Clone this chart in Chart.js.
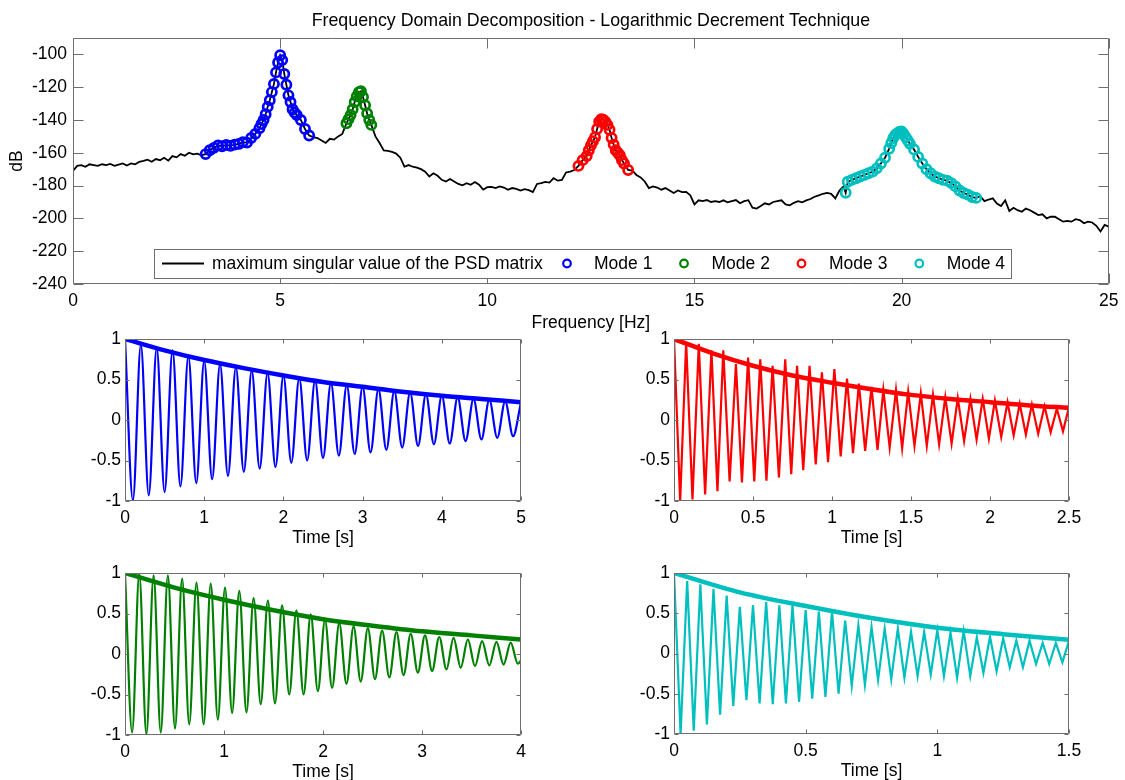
<!DOCTYPE html>
<html><head><meta charset="utf-8">
<script src="https://cdn.jsdelivr.net/npm/chart.js@4.4.1/dist/chart.umd.min.js"></script>
<style>
html,body{margin:0;padding:0;background:#fff;}
#wrap{position:relative;width:1125px;height:780px;overflow:hidden;background:#fff;}
#wrap canvas{position:absolute;left:0;top:0;}
</style></head><body><div id="wrap"></div>
<script>
// ---------------- DATA ----------------
const freqHz = [
0,0.1,0.2,0.3,0.4,0.5,0.6,0.7,0.8,0.9,
1,1.1,1.2,1.3,1.4,1.5,1.6,1.7,1.8,1.9,
2,2.1,2.2,2.3,2.4,2.5,2.6,2.7,2.8,2.9,
3,3.1,3.2,3.3,3.4,3.5,3.6,3.7,3.8,3.9,
4,4.1,4.2,4.3,4.4,4.5,4.55,4.6,4.65,4.7,
4.75,4.8,4.85,4.9,4.95,5,5.05,5.1,5.15,5.2,
5.25,5.3,5.35,5.4,5.5,5.6,5.7,5.8,5.9,6,
6.1,6.2,6.3,6.4,6.5,6.6,6.65,6.7,6.75,6.8,
6.85,6.9,6.95,7,7.05,7.1,7.15,7.2,7.3,7.4,
7.5,7.6,7.7,7.8,7.9,8,8.1,8.2,8.3,8.4,
8.5,8.6,8.7,8.8,8.9,9,9.1,9.2,9.3,9.4,
9.5,9.6,9.7,9.8,9.9,10,10.1,10.2,10.3,10.4,
10.5,10.6,10.7,10.8,10.9,11,11.1,11.2,11.3,11.4,
11.5,11.6,11.7,11.8,11.9,12,12.1,12.2,12.3,12.4,
12.45,12.5,12.55,12.6,12.65,12.7,12.75,12.8,12.85,12.9,
12.95,13,13.05,13.1,13.15,13.2,13.25,13.3,13.4,13.5,
13.6,13.7,13.8,13.9,14,14.1,14.2,14.3,14.4,14.5,
14.6,14.7,14.8,14.9,15,15.1,15.2,15.3,15.4,15.5,
15.6,15.7,15.8,15.9,16,16.1,16.2,16.3,16.4,16.5,
16.6,16.7,16.8,16.9,17,17.1,17.2,17.3,17.4,17.5,
17.6,17.7,17.8,17.9,18,18.1,18.2,18.3,18.4,18.5,
18.6,18.65,18.7,18.8,18.9,19,19.1,19.2,19.3,19.4,
19.5,19.6,19.7,19.75,19.8,19.85,19.9,19.95,20,20.05,
20.1,20.15,20.2,20.3,20.4,20.5,20.6,20.7,20.8,20.9,
21,21.1,21.2,21.3,21.4,21.5,21.6,21.7,21.8,21.9,
22,22.1,22.2,22.3,22.4,22.5,22.6,22.7,22.8,22.9,
23,23.1,23.2,23.3,23.4,23.5,23.6,23.7,23.8,23.9,
24,24.1,24.2,24.3,24.4,24.5,24.6,24.7,24.8,24.9,
25];
const psdDb = [
-171,-168,-167.5,-168.5,-167,-167.5,-168,-167,-167.5,-166.8,
-168,-167.2,-166.5,-167.8,-166.5,-167,-165.5,-165,-164.2,-165.5,
-163.8,-164.5,-163,-164.8,-162,-162.8,-160.8,-161.8,-160,-161,
-160.5,-161.5,-160.8,-158.5,-157,-155.5,-156,-155.2,-155.8,-155,
-154.6,-153.5,-153.8,-151,-148.5,-145,-142.5,-140,-136.5,-132,
-128,-123,-118,-111,-105,-100.5,-103.5,-112,-118.5,-125,
-129,-133.5,-135.5,-137,-140,-145.5,-149.5,-150.5,-151,-152.5,
-154,-151.5,-152,-150,-148.5,-142,-139.5,-137,-133.5,-129,
-125.5,-123,-122.5,-126,-131,-136,-140,-143,-150,-154,
-158.5,-158.8,-159.5,-160.5,-163,-168.5,-167.5,-168.5,-169,-170,
-171.5,-174.5,-172.5,-174,-176.5,-177.5,-176,-177.5,-179,-179.8,
-178.5,-179.5,-177.8,-179.5,-182.5,-181,-180.8,-181.5,-180.5,-181.2,
-182.5,-181.5,-182,-183,-182.2,-182.8,-184,-179,-178.5,-177.8,
-178.2,-175.5,-177,-176.5,-172,-171.5,-170.5,-168,-164.5,-162,
-158.5,-155.5,-153,-150.5,-145.5,-141,-139.5,-139.8,-141,-143,
-146,-151,-155,-158.5,-160,-161.5,-164.5,-166.5,-170.5,-170.8,
-173.5,-175,-177.5,-181.5,-180.5,-181.2,-182.5,-181.5,-183,-184.5,
-183,-184,-183.8,-186,-191.5,-189,-189.5,-188.8,-190,-189.5,
-190,-189,-190.2,-189.5,-188.8,-190.8,-189.5,-188.9,-193.5,-194,
-192.5,-190.8,-191.5,-190,-189.5,-189,-191.5,-192,-190.5,-189.5,
-190.2,-189,-188.2,-186.8,-186,-185,-184.5,-185,-187.8,-183,
-180.5,-184.4,-177.7,-176.5,-175.5,-174.5,-173.5,-172.5,-171.5,-169.5,
-166.5,-163,-157.5,-154,-151,-149,-148,-147.2,-147,-148.5,
-150.5,-152.5,-154.5,-158,-162.5,-166.5,-170,-172.5,-174.5,-175.5,
-176.5,-177,-178.5,-180.5,-183,-184.5,-185.5,-187,-187.5,-186.5,
-189.5,-188.5,-187.8,-191,-192.5,-189,-195.5,-193.5,-195,-196,
-194,-195,-196.5,-198,-197.5,-200,-199,-199,-200.5,-202,
-201.5,-202,-200.5,-201,-203,-202,-202.5,-204.5,-208,-204,
-205];

const modeNames = ['Mode 1', 'Mode 2', 'Mode 3', 'Mode 4'];
const modeLoHz  = [3.2, 6.6, 12.2, 18.65];
const modeHiHz  = [5.7, 7.2, 13.4, 21.8];

const xTicksTop = [0, 5, 10, 15, 20, 25];
const yTicksTop = [-240, -220, -200, -180, -160, -140, -120, -100];
const yTicksSmall = [-1, -0.5, 0, 0.5, 1];

// Mode 1 (blue) decay
const blueT = [0,0.1,0.2,0.3,0.4,0.5,0.6,0.7,0.8,0.9,1,1.1,1.2,1.3,1.4,1.5,1.6,1.7,1.8,1.9,
2,2.1,2.2,2.3,2.4,2.5,2.6,2.7,2.8,2.9,3,3.1,3.2,3.3,3.4,3.5,3.6,3.7,3.8,3.9,
4,4.1,4.2,4.3,4.4,4.5,4.6,4.7,4.8,4.9,5];
const blueY = [1,-0.99,0.93,-0.93,0.89,-0.89,0.86,-0.82,0.79,-0.78,
0.73,-0.73,0.69,-0.69,0.65,-0.64,0.61,-0.6,0.58,-0.58,
0.55,-0.53,0.52,-0.5,0.49,-0.47,0.46,-0.44,0.43,-0.42,
0.41,-0.4,0.38,-0.37,0.36,-0.34,0.34,-0.32,0.32,-0.3,
0.3,-0.29,0.28,-0.26,0.26,-0.24,0.25,-0.22,0.23,-0.2,0.22];
const blueEnvT = [0,0.5,1,1.5,2,2.5,3,3.5,4,4.5,5];
const blueEnvY = [1,0.86,0.74,0.64,0.55,0.47,0.41,0.35,0.3,0.26,0.22];
const blueTicksX = [0,1,2,3,4,5];

// Mode 3 (red) decay
const redT = [0,0.039,0.077,0.117,0.157,0.197,0.237,0.275,0.312,0.352,
0.392,0.43,0.469,0.508,0.546,0.585,0.624,0.664,0.704,0.742,
0.779,0.818,0.858,0.897,0.936,0.975,1.015,1.055,1.095,1.133,
1.17,1.21,1.25,1.288,1.325,1.365,1.405,1.444,1.482,1.522,
1.562,1.6,1.639,1.678,1.717,1.757,1.796,1.836,1.876,1.915,
1.954,1.993,2.031,2.071,2.111,2.15,2.188,2.227,2.265,2.305,
2.345,2.384,2.423,2.462,2.5];
const redY = [1,-1,0.96,-0.98,0.94,-0.92,0.86,-0.88,0.86,-0.76,
0.69,-0.77,0.77,-0.76,0.75,-0.75,0.67,-0.71,0.75,-0.67,
0.67,-0.62,0.67,-0.55,0.59,-0.52,0.63,-0.45,0.51,-0.41,
0.45,-0.38,0.41,-0.37,0.37,-0.34,0.37,-0.35,0.35,-0.32,
0.33,-0.32,0.31,-0.3,0.28,-0.29,0.27,-0.26,0.26,-0.24,
0.26,-0.23,0.24,-0.21,0.22,-0.19,0.2,-0.18,0.19,-0.17,
0.17,-0.15,0.14,-0.14,0.16];
const redEnvT = [0,0.25,0.5,0.75,1,1.25,1.5,1.75,2,2.25,2.5];
const redEnvY = [1,0.82,0.67,0.55,0.46,0.38,0.31,0.26,0.22,0.18,0.15];
const redTicksX = [0,0.5,1,1.5,2,2.5];

// Mode 2 (green) decay
const greenT = [0,0.072,0.144,0.216,0.289,0.361,0.433,0.505,0.577,0.649,
0.722,0.794,0.866,0.938,1.01,1.082,1.154,1.227,1.299,1.371,
1.443,1.515,1.587,1.659,1.731,1.804,1.876,1.948,2.02,2.092,
2.164,2.237,2.309,2.381,2.453,2.525,2.597,2.67,2.742,2.814,
2.886,2.958,3.03,3.102,3.174,3.247,3.319,3.391,3.463,3.535,
3.607,3.68,3.752,3.824,3.896,3.968,4];
const greenY = [1,-0.97,0.99,-0.99,0.97,-0.97,0.97,-0.92,0.93,-0.87,
0.88,-0.87,0.87,-0.81,0.82,-0.73,0.78,-0.72,0.69,-0.62,
0.66,-0.61,0.6,-0.5,0.54,-0.5,0.49,-0.46,0.42,-0.42,
0.38,-0.37,0.34,-0.34,0.32,-0.31,0.29,-0.29,0.27,-0.26,
0.25,-0.23,0.23,-0.21,0.21,-0.19,0.2,-0.17,0.18,-0.15,
0.16,-0.14,0.15,-0.13,0.14,-0.12,-0.08];
const greenEnvT = [0,0.5,1,1.5,2,2.5,3,3.5,4];
const greenEnvY = [1,0.82,0.67,0.54,0.43,0.35,0.28,0.23,0.18];
const greenTicksX = [0,1,2,3,4];

// Mode 4 (cyan) decay
const cyanT = [0,0.025,0.05,0.075,0.1,0.125,0.15,0.175,0.2,0.225,
0.25,0.275,0.3,0.325,0.35,0.375,0.4,0.425,0.45,0.475,
0.5,0.525,0.55,0.575,0.6,0.625,0.65,0.675,0.7,0.725,
0.75,0.775,0.8,0.825,0.85,0.875,0.9,0.925,0.95,0.975,
1,1.025,1.05,1.075,1.1,1.125,1.15,1.175,1.2,1.225,
1.25,1.275,1.3,1.325,1.35,1.375,1.4,1.425,1.45,1.475,1.5];
const cyanY = [1,-1,0.9,-0.96,0.86,-0.88,0.8,-0.76,0.72,-0.65,
0.58,-0.58,0.6,-0.62,0.64,-0.63,0.6,-0.62,0.6,-0.6,
0.54,-0.56,0.52,-0.54,0.52,-0.5,0.41,-0.4,0.35,-0.39,
0.33,-0.33,0.31,-0.32,0.31,-0.3,0.27,-0.28,0.27,-0.26,
0.29,-0.28,0.26,-0.3,0.28,-0.28,0.2,-0.24,0.21,-0.22,
0.19,-0.17,0.16,-0.17,0.16,-0.13,0.13,-0.13,0.13,-0.11,0.16];
const cyanEnvT = [0,0.25,0.5,0.75,1,1.25,1.5];
const cyanEnvY = [1,0.76,0.59,0.44,0.32,0.24,0.17];
const cyanTicksX = [0,0.5,1,1.5];

// ---------------- STYLE / SETUP ----------------
const FONT = '"Liberation Sans", Arial, Helvetica, sans-serif';
const FS = 17.5;
Chart.defaults.font.family = FONT;
Chart.defaults.font.size = FS;
Chart.defaults.color = '#000';
Chart.defaults.animation = false;
const PW = 1125, PH = 780;
const FRAME = '#6e6e6e';
const COLORS = {blue:'#0000ff', green:'#008000', red:'#ff0000', cyan:'#00bfbf'};
const modeColors = [COLORS.blue, COLORS.green, COLORS.red, COLORS.cyan];
const fmtTick = v => String(Math.round(v * 1000) / 1000);

const matlabBox = {
  id: 'matlabBox',
  afterDraw(chart, args, opts) {
    const {ctx, chartArea: a, scales} = chart;
    const tl = opts.tick || 5;
    ctx.save();
    ctx.strokeStyle = FRAME;
    ctx.lineWidth = 1;
    ctx.beginPath();
    const L = Math.round(a.left) + 0.5, R = Math.round(a.right) - 0.5;
    const T = Math.round(a.top) + 0.5, B = Math.round(a.bottom) - 0.5;
    ctx.rect(L, T, R - L, B - T);
    scales.x.ticks.forEach(t => {
      const px = Math.round(scales.x.getPixelForValue(t.value)) + 0.5;
      ctx.moveTo(px, B); ctx.lineTo(px, B - tl);
      ctx.moveTo(px, T); ctx.lineTo(px, T + tl);
    });
    scales.y.ticks.forEach(t => {
      const py = Math.round(scales.y.getPixelForValue(t.value)) + 0.5;
      ctx.moveTo(L, py); ctx.lineTo(L + tl, py);
      ctx.moveTo(R, py); ctx.lineTo(R - tl, py);
    });
    ctx.stroke();
    ctx.restore();
  }
};

const boxLegend = {
  id: 'boxLegend',
  afterDraw(chart, args, o) {
    if (!o || !o.items) return;
    const ctx = chart.ctx;
    const [x0, y0, x1, y1] = o.box;
    ctx.save();
    ctx.fillStyle = '#fff';
    ctx.fillRect(x0, y0, x1 - x0, y1 - y0);
    ctx.strokeStyle = FRAME; ctx.lineWidth = 1;
    ctx.strokeRect(x0 + 0.5, y0 + 0.5, x1 - x0, y1 - y0);
    const cy = (y0 + y1) / 2;
    ctx.font = FS + 'px ' + FONT;
    ctx.textBaseline = 'middle';
    ctx.textAlign = 'left';
    o.items.forEach(it => {
      const ds = chart.data.datasets[it.ds];
      if (it.line) {
        ctx.strokeStyle = ds.borderColor; ctx.lineWidth = 2;
        ctx.beginPath(); ctx.moveTo(it.line[0], cy); ctx.lineTo(it.line[1], cy); ctx.stroke();
      } else {
        ctx.strokeStyle = ds.pointBorderColor; ctx.lineWidth = 2.2;
        ctx.beginPath(); ctx.arc(it.cx, cy, 3.8, 0, Math.PI * 2); ctx.stroke();
      }
      ctx.fillStyle = '#000';
      ctx.fillText(ds.label, it.tx, cy + 0.5);
    });
    ctx.restore();
  }
};

function addCanvas() {
  const c = document.createElement('canvas');
  c.width = PW; c.height = PH;
  c.style.width = PW + 'px'; c.style.height = PH + 'px';
  document.getElementById('wrap').appendChild(c);
  return c;
}

// ---------------- TOP CHART ----------------
(function () {
  const psdPts = freqHz.map((f, i) => ({x: f, y: psdDb[i]}));
  const modeSets = modeNames.map((name, k) => ({
    label: name,
    data: psdPts.filter(p => p.x >= modeLoHz[k] && p.x <= modeHiHz[k]),
    showLine: false,
    pointRadius: 4.6,
    pointBorderWidth: 2.7,
    pointBorderColor: modeColors[k],
    pointBackgroundColor: 'rgba(0,0,0,0)',
    borderColor: modeColors[k],
    order: 0
  }));
  const plot = {l: 73, t: 38, r: 1113, b: 284};
  const xH = 47.5;
  new Chart(addCanvas(), {
    type: 'line',
    data: {
      datasets: [{
        label: 'maximum singular value of the PSD matrix',
        data: psdPts, borderColor: '#000', borderWidth: 1.8,
        pointRadius: 0, tension: 0, order: 1
      }, ...modeSets]
    },
    options: {
      responsive: false, devicePixelRatio: 1, animation: false,
      events: [],
      layout: {padding: {left: plot.l - 73, top: 0, right: PW - plot.r, bottom: PH - plot.b - xH}},
      plugins: {
        legend: {display: false}, tooltip: {enabled: false},
        title: {
          display: true, fullSize: false,
          text: 'Frequency Domain Decomposition - Logarithmic Decrement Technique',
          color: '#000', font: {size: 17.8, weight: 'normal', lineHeight: 1.2},
          padding: {top: 10, bottom: 6.6}
        },
        matlabBox: {tick: 10},
        boxLegend: {
          box: [154, 249, 1011, 278],
          items: [
            {ds: 0, line: [162, 204], tx: 212},
            {ds: 1, cx: 567, tx: 594},
            {ds: 2, cx: 684, tx: 711.5},
            {ds: 3, cx: 801.5, tx: 829},
            {ds: 4, cx: 919.3, tx: 946.7}
          ]
        }
      },
      scales: {
        x: {
          type: 'linear', min: 0, max: 25,
          afterBuildTicks: s => { s.ticks = xTicksTop.map(v => ({value: v})); },
          afterFit: s => { s.height = xH; },
          grid: {display: false, drawTicks: false}, border: {display: false},
          ticks: {padding: 6.5, maxRotation: 0, autoSkip: false, color: '#000', callback: fmtTick},
          title: {display: true, text: 'Frequency [Hz]', color: '#000', padding: 0,
                  font: {size: FS, lineHeight: 1}}
        },
        y: {
          type: 'linear', min: -240, max: -90,
          afterBuildTicks: s => { s.ticks = yTicksTop.map(v => ({value: v})); },
          afterFit: s => { s.width = 73; },
          grid: {display: false, drawTicks: false}, border: {display: false},
          ticks: {padding: 6, autoSkip: false, color: '#000', callback: fmtTick},
          title: {display: true, text: 'dB', color: '#000', padding: {top: 8, bottom: 0},
                  font: {size: FS, lineHeight: 1}}
        }
      }
    },
    plugins: [matlabBox, boxLegend]
  });
})();

// ---------------- SMALL DECAY CHARTS ----------------
function decayChart(rect, T, Y, ET, EY, ticksX, color, smooth) {
  const yW = 60, xH = 46;
  const sig = T.map((t, i) => ({x: t, y: Y[i]}));
  const env = ET.map((t, i) => ({x: t, y: EY[i]}));
  const xMax = ticksX[ticksX.length - 1];
  const padBottom = PH - rect.b - xH;
  new Chart(addCanvas(), {
    type: 'line',
    data: {
      datasets: [
        {label: 'envelope', data: env, borderColor: color, borderWidth: 4.5,
         pointRadius: 0, cubicInterpolationMode: 'monotone', order: 0},
        {label: 'signal', data: sig, borderColor: color, borderWidth: 2.2,
         pointRadius: 0, order: 1,
         ...(smooth ? {cubicInterpolationMode: 'monotone'} : {tension: 0})}
      ]
    },
    options: {
      responsive: false, devicePixelRatio: 1, animation: false, events: [],
      layout: {padding: {left: rect.l - yW, top: rect.t, right: PW - rect.r, bottom: padBottom}},
      plugins: {legend: {display: false}, tooltip: {enabled: false}, title: {display: false},
                matlabBox: {tick: 4}},
      scales: {
        x: {
          type: 'linear', min: 0, max: xMax,
          afterBuildTicks: s => { s.ticks = ticksX.map(v => ({value: v})); },
          afterFit: s => { s.height = xH; },
          grid: {display: false, drawTicks: false}, border: {display: false},
          ticks: {padding: 7, maxRotation: 0, autoSkip: false, color: '#000', callback: fmtTick},
          title: {display: true, text: 'Time [s]', color: '#000', padding: 0,
                  font: {size: FS, lineHeight: 1}}
        },
        y: {
          type: 'linear', min: -1, max: 1,
          afterBuildTicks: s => { s.ticks = yTicksSmall.map(v => ({value: v})); },
          afterFit: s => { s.width = yW; },
          grid: {display: false, drawTicks: false}, border: {display: false},
          ticks: {padding: 4, autoSkip: false, color: '#000', callback: fmtTick}
        }
      }
    },
    plugins: [matlabBox]
  });
}

decayChart({l: 125, t: 339, r: 521, b: 501}, blueT, blueY, blueEnvT, blueEnvY, blueTicksX, COLORS.blue, true);
decayChart({l: 674, t: 339, r: 1069, b: 501}, redT, redY, redEnvT, redEnvY, redTicksX, COLORS.red, false);
decayChart({l: 125, t: 573, r: 521, b: 735}, greenT, greenY, greenEnvT, greenEnvY, greenTicksX, COLORS.green, true);
decayChart({l: 674, t: 573, r: 1069, b: 734}, cyanT, cyanY, cyanEnvT, cyanEnvY, cyanTicksX, COLORS.cyan, false);
</script>
</body></html>
